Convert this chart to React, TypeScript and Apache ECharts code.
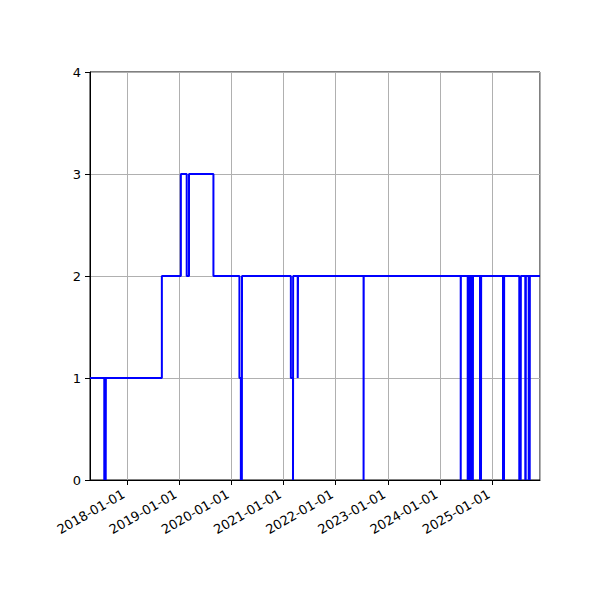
import { useEffect, useRef } from "react";
import * as echarts from "echarts";

// dates where the level changes, and the level held from that date on
const changeDates = [
  "2017-04-17",
  "2017-07-26", "2017-07-27", "2017-08-05", "2017-08-06",
  "2018-09-02",
  "2019-01-13", "2019-02-23", "2019-03-11", "2019-08-29",
  "2020-02-27", "2020-03-08", "2020-03-09", "2020-03-15", "2020-03-16",
  "2021-02-21", "2021-03-08", "2021-03-09", "2021-04-10", "2021-04-12",
  "2022-07-15", "2022-07-16",
  "2024-05-25", "2024-05-26",
  "2024-07-13", "2024-07-14", "2024-07-19", "2024-07-20", "2024-07-25", "2024-07-26",
  "2024-07-31", "2024-08-01", "2024-08-06", "2024-08-07", "2024-08-12", "2024-08-13",
  "2024-08-18", "2024-08-19",
  "2024-10-07", "2024-10-08", "2024-10-14", "2024-10-15",
  "2025-03-17", "2025-03-18", "2025-03-24", "2025-03-25",
  "2025-07-09", "2025-07-10", "2025-07-14", "2025-07-15", "2025-07-19", "2025-07-20",
  "2025-08-20", "2025-08-21", "2025-08-23", "2025-08-24",
  "2025-09-13", "2025-09-14", "2025-09-20", "2025-09-21",
  "2025-12-01",
];

const levels = [
  1,
  0, 1, 0, 1,
  2,
  3, 2, 3, 2,
  1, 0, 1, 0, 2,
  1, 0, 2, 1, 2,
  0, 2,
  0, 2,
  0, 2, 0, 2, 0, 2,
  0, 2, 0, 2, 0, 2,
  0, 2,
  0, 2, 0, 2,
  0, 2, 0, 2,
  0, 2, 0, 2, 0, 2,
  0, 2, 0, 2,
  0, 2, 0, 2,
  2,
];

const yTicks = [0, 1, 2, 3, 4];

const App = () => {
  const chartRef = useRef(null);

  useEffect(() => {
    const chart = echarts.init(chartRef.current, null, { renderer: "svg" });
    const font = "DejaVu Sans";

    const option: any = {
      animation: false,
      backgroundColor: "#ffffff",
      grid: {
        left: 90,
        right: 60,
        top: 72,
        bottom: 120,
        show: true,
        borderColor: "#000000",
        borderWidth: 1,
        backgroundColor: "transparent",
      },
      xAxis: {
        type: "time",
        min: new Date(changeDates[0] + "T00:00:00Z").getTime(),
        max: new Date(changeDates[changeDates.length - 1] + "T00:00:00Z").getTime(),
        splitNumber: 8,
        minInterval: 365 * 24 * 3600 * 1000,
        axisLine: { show: true, onZero: false, lineStyle: { color: "#000", width: 1 } },
        axisTick: { show: true, inside: false, length: 5, lineStyle: { color: "#000" } },
        axisLabel: {
          rotate: 30,
          margin: 11,
          padding: [0, 4, 0, 0],
          color: "#000",
          fontFamily: font,
          fontSize: 13,
          showMinLabel: false,
          showMaxLabel: false,
          formatter: "{yyyy}-{MM}-{dd}",
        },
        splitLine: { show: true, lineStyle: { color: "#b0b0b0", width: 1 } },
      },
      yAxis: {
        type: "value",
        min: yTicks[0],
        max: yTicks[yTicks.length - 1],
        interval: 1,
        axisLine: { show: true, lineStyle: { color: "#000", width: 1 } },
        axisTick: { show: true, inside: false, length: 5, lineStyle: { color: "#000" } },
        axisLabel: { margin: 9, color: "#000", fontFamily: font, fontSize: 13 },
        splitLine: { show: true, lineStyle: { color: "#b0b0b0", width: 1 } },
      },
      series: [
        {
          type: "line",
          step: "end",
          showSymbol: false,
          symbol: "none",
          clip: true,
          lineStyle: { color: "#0000ff", width: 2 },
          data: changeDates.map((d, i) => [new Date(d + "T00:00:00Z").getTime(), levels[i]]),
        },
      ],
    };

    chart.setOption(option);

    return () => {
      chart.dispose();
    };
  }, []);

  return (
    <div
      ref={chartRef}
      style={{ position: "absolute", left: 0, top: 0, width: "600px", height: "600px" }}
    />
  );
};

export default App;
